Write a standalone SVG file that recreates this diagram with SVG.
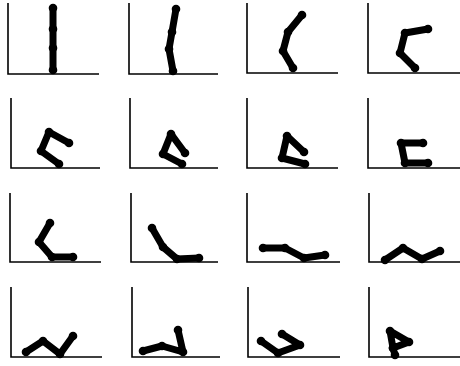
<svg xmlns="http://www.w3.org/2000/svg" width="460" height="366" viewBox="0 0 460 366">
<defs>
<marker id="j" markerUnits="userSpaceOnUse" markerWidth="10" markerHeight="10" refX="5" refY="5" viewBox="0 0 10 10"><circle cx="5" cy="5" r="4.3" fill="#000"/></marker>
</defs>
<style>
.ax{fill:none;stroke:#000;stroke-width:1.6}
.fig{fill:none;stroke:#000;stroke-width:7;stroke-linecap:round;stroke-linejoin:round;marker-start:url(#j);marker-mid:url(#j);marker-end:url(#j)}
</style>
<rect width="460" height="366" fill="#fff"/>
<g id="p1"><path class="ax" d="M8,3V74H99"/><polyline class="fig" points="53,8 53,29 53,48 53,70"/></g>
<g id="p2"><path class="ax" d="M129,3V74H218"/><polyline class="fig" points="176,9 172,32 169,49 173,71"/></g>
<g id="p3"><path class="ax" d="M247,3V73H338"/><polyline class="fig" points="302,15 288,32 283,51 293,68"/></g>
<g id="p4"><path class="ax" d="M368,3V73H460"/><polyline class="fig" points="428,29 405,33 400,53 415,68"/></g>
<g id="p5"><path class="ax" d="M11,98V168H100"/><polyline class="fig" points="69,143 49,132 41,151 59,164"/></g>
<g id="p6"><path class="ax" d="M130,98V168H218"/><polyline class="fig" points="185,153 171,134 163,154 182,164"/></g>
<g id="p7"><path class="ax" d="M247,98V168H338"/><polyline class="fig" points="304,152 287,136 282,158 305,164"/></g>
<g id="p8"><path class="ax" d="M368,98V168H460"/><polyline class="fig" points="423,143 401,143 405,163 428,163"/></g>
<g id="p9"><path class="ax" d="M10,193V262H101"/><polyline class="fig" points="50,223 39,242 52,257 73,257"/></g>
<g id="p10"><path class="ax" d="M131,193V262H218"/><polyline class="fig" points="152,228 163,247 177,259 199,258"/></g>
<g id="p11"><path class="ax" d="M247,193V262H340"/><polyline class="fig" points="263,248 285,248 304,258 325,255"/></g>
<g id="p12"><path class="ax" d="M369,193V262H460"/><polyline class="fig" points="385,260 403,248 422,259 440,251"/></g>
<g id="p13"><path class="ax" d="M11,287V357H102"/><polyline class="fig" points="26,352 43,341 60,354 73,336"/></g>
<g id="p14"><path class="ax" d="M132,287V357H220"/><polyline class="fig" points="143,351 162,346 183,352 178,330"/></g>
<g id="p15"><path class="ax" d="M248,287V357H340"/><polyline class="fig" points="282,334 300,345 278,353 261,341"/></g>
<g id="p16"><path class="ax" d="M369,287V357H460"/><polyline class="fig" points="395,355 393,348 390,331 409,342 393,348"/></g>
</svg>
